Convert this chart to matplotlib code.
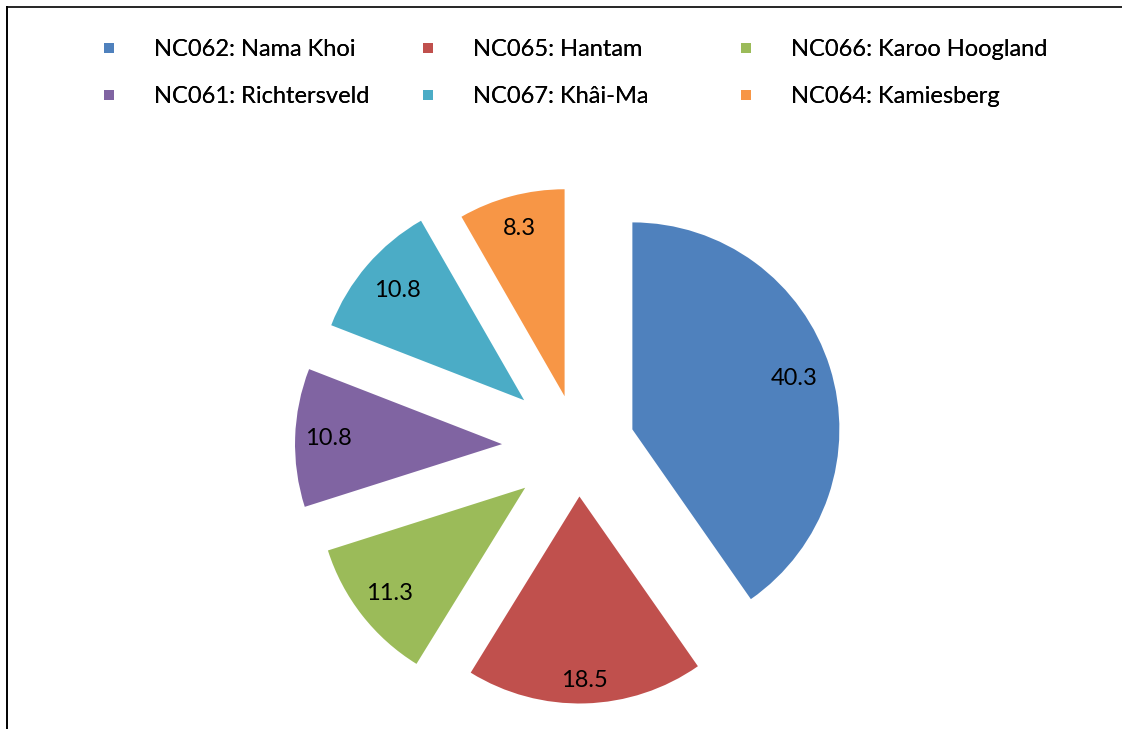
import matplotlib.pyplot as plt
from matplotlib.lines import Line2D
import numpy as np

plt.rcParams['font.family'] = ['Lato', 'DejaVu Sans']

names = ['NC062: Nama Khoi', 'NC065: Hantam', 'NC066: Karoo Hoogland',
         'NC061: Richtersveld', 'NC067: Khâi-Ma', 'NC064: Kamiesberg']
values = [40.3, 18.5, 11.3, 10.8, 10.8, 8.3]
colors = ['#4F81BD', '#C0504D', '#9BBB59', '#8064A2', '#4BACC6', '#F79646']

# pixel-based layout (1 data unit = 1 px)
W, H = 1122, 729
center = (578, H - 446.5)
radius = 207
explode = [57, 50, 67, 76, 71, 52]
label_dist = [0.82, 0.89, 0.83, 0.84, 0.81, 0.84]

fig = plt.figure(figsize=(W / 100, H / 100), dpi=100)
ax = fig.add_axes([0, 0, 1, 1])

wedges, _ = ax.pie(values, colors=colors, explode=explode, center=center,
                   radius=radius, startangle=90, counterclock=False,
                   wedgeprops=dict(linewidth=0))

for w, v, f in zip(wedges, values, label_dist):
    tm = np.deg2rad((w.theta1 + w.theta2) / 2)
    cx, cy = w.center
    ax.text(cx + f * w.r * np.cos(tm), cy + f * w.r * np.sin(tm), f'{v:.1f}',
            ha='center', va='center', fontsize=17, color='black')

ax.set_xlim(0, W)
ax.set_ylim(0, H)
ax.set_aspect('equal')
ax.axis('off')

# legend: three columns, two rows (Excel style)
col_x = [97, 416, 734]
for c in range(3):
    idx = [c, c + 3]
    handles = [Line2D([], [], linestyle='none', marker='s', markersize=7.7,
                      markerfacecolor=colors[i], markeredgewidth=0) for i in idx]
    leg = fig.legend(handles, [names[i] for i in idx], loc='upper left',
                     bbox_to_anchor=(col_x[c] / W, 1 - 39 / H), frameon=False,
                     fontsize=17, handlelength=1.0, handletextpad=1.4,
                     labelspacing=1.12, borderpad=0, borderaxespad=0)
    fig.add_artist(leg)

# frame lines (top and left, as in the source image)
fig.add_artist(Line2D([7 / W, 1], [1 - 7 / H, 1 - 7 / H], color='black', lw=1.2))
fig.add_artist(Line2D([7 / W, 7 / W], [0, 1 - 7 / H], color='black', lw=1.4))

fig.savefig('out.png', dpi=100)
